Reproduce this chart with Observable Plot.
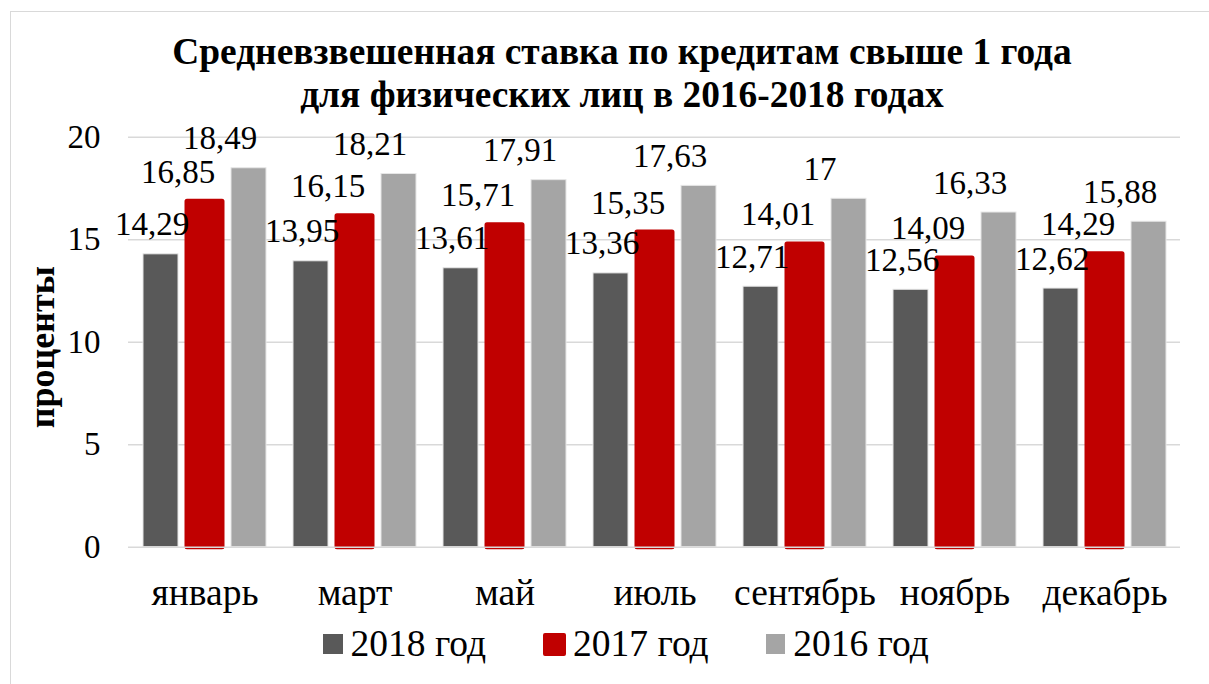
<!DOCTYPE html>
<html>
<head>
<meta charset="utf-8">
<script src="https://cdn.jsdelivr.net/npm/d3@7"></script>
<script src="https://cdn.jsdelivr.net/npm/@observablehq/plot@0.6"></script>
<style>
  html, body { margin: 0; padding: 0; background: #fff; overflow: hidden; }
  #wrap { position: relative; width: 1209px; height: 684px; font-family: "Liberation Serif", "Times New Roman", serif; }
  #wrap > .layer { position: absolute; left: 0; top: 0; }
  #frame { position: absolute; left: 10px; top: 11px; width: 1205px; height: 690px; border: 1.5px solid #d9d9d9; box-sizing: border-box; }
  #title { position: absolute; left: 35px; top: 30px; width: 1174px; text-align: center; font-weight: bold; font-size: 37.4px; line-height: 43.3px; color: #000; }
  #legend { position: absolute; left: 323px; top: 626px; display: flex; align-items: center; gap: 57px; font-size: 37.5px; line-height: 36px; color: #000; }
  #legend .item { display: flex; align-items: center; }
  #legend .sw { width: 19.5px; height: 19.5px; margin-right: 8px; box-sizing: border-box; }
</style>
</head>
<body>
<div id="wrap">
  <div id="frame"></div>
  <div id="title">Средневзвешенная ставка по кредитам свыше 1 года<br>для физических лиц в 2016-2018 годах</div>
  <div id="legend"></div>
</div>
<script>
// ---- data ----
const months = ["январь", "март", "май", "июль", "сентябрь", "ноябрь", "декабрь"];
const series = ["2018 год", "2017 год", "2016 год"];
const values2018 = [14.29, 13.95, 13.61, 13.36, 12.71, 12.56, 12.62];
const values2017 = [16.85, 16.15, 15.71, 15.35, 14.77, 14.09, 14.29]; // bar heights as drawn
const values2016 = [18.49, 18.21, 17.91, 17.63, 17, 16.33, 15.88];
const labels2017 = ["16,85", "16,15", "15,71", "15,35", "14,01", "14,09", "14,29"]; // label text as printed
const yTicks = [0, 5, 10, 15, 20];
const colors = ["#595959", "#c00000", "#a5a5a5"];

const fmt = v => String(v).replace(".", ",");
const seriesValues = [values2018, values2017, values2016];
const data = months.flatMap((m, i) => series.map((s, j) => ({
  month: m,
  series: s,
  value: seriesValues[j][i],
  label: j === 1 ? labels2017[i] : fmt(seriesValues[j][i])
})));

const W = 1209, H = 684;
const M = {top: 136.8, bottom: 137.3, left: 128, right: 29};
const font = "'Liberation Serif', 'Times New Roman', serif";
const baseStyle = {fontFamily: font, fontSize: "33px", color: "#000", background: "transparent", overflow: "visible"};

// ---- layer 1: grid + y axis ----
const backLayer = Plot.plot({
  width: W, height: H,
  marginTop: M.top, marginBottom: M.bottom, marginLeft: M.left, marginRight: M.right,
  style: baseStyle,
  y: {domain: [0, 20]},
  marks: [
    Plot.ruleY(yTicks.filter(d => d > 0), {stroke: "#d9d9d9", strokeWidth: 1.5}),
    Plot.axisY(yTicks, {tickSize: 0, tickPadding: 28, label: null, fontSize: 33}),
    Plot.text(["проценты"], {frameAnchor: "left", textAnchor: "middle", dx: -86, dy: 5, rotate: -90, fontWeight: "bold", fontSize: 36})
  ]
});

// ---- layer 2: bars, labels, month axis ----
const bySeries = s => data.filter(d => d.series === s);
const labelDx = [-9, -27, -29];
const barLayer = Plot.plot({
  width: W, height: H,
  marginTop: M.top, marginBottom: M.bottom, marginLeft: M.left, marginRight: M.right,
  style: baseStyle,
  fx: {domain: months, paddingInner: 0.18, paddingOuter: 0.09, label: null},
  x: {domain: series, paddingInner: 0.207, paddingOuter: 0, axis: null},
  y: {domain: [0, 20], axis: null},
  color: {domain: series, range: colors},
  marks: [
    Plot.axisFx({anchor: "bottom", tickSize: 0, tickPadding: 31, fontSize: 37.5, label: null}),
    Plot.barY(bySeries(series[0]), {fx: "month", x: "series", y: "value", fill: "series", stroke: "#e6e6e6", strokeWidth: 1}),
    Plot.barY(bySeries(series[1]), {fx: "month", x: "series", y: "value", fill: "series", stroke: colors[1], strokeWidth: 5, strokeLinejoin: "round"}),
    Plot.barY(bySeries(series[2]), {fx: "month", x: "series", y: "value", fill: "series", stroke: "#e6e6e6", strokeWidth: 1}),
    ...series.map((s, j) => Plot.text(bySeries(s), {fx: "month", x: "series", y: "value", text: "label", lineAnchor: "bottom", dy: -19, dx: labelDx[j], fill: "#000", fontSize: 33}))
  ]
});

// ---- layer 3: zero baseline on top ----
const baseLayer = Plot.plot({
  width: W, height: H,
  marginTop: M.top, marginBottom: M.bottom, marginLeft: M.left, marginRight: M.right,
  style: baseStyle,
  y: {domain: [0, 20], axis: null},
  marks: [Plot.ruleY([0], {stroke: "#d9d9d9", strokeWidth: 1.5})]
});

const wrap = document.getElementById("wrap");
for (const svg of [backLayer, barLayer, baseLayer]) {
  svg.classList.add("layer");
  wrap.appendChild(svg);
}

// ---- legend ----
const legend = document.getElementById("legend");
series.forEach((s, j) => {
  const item = document.createElement("div");
  item.className = "item";
  const sw = document.createElement("div");
  sw.className = "sw";
  sw.style.background = colors[j];
  if (j === 1) { sw.style.border = "2px solid " + colors[1]; sw.style.borderRadius = "2px"; sw.style.width = "23px"; sw.style.height = "23px"; sw.style.marginRight = "7px"; }
  const t = document.createElement("span");
  t.textContent = s;
  item.appendChild(sw);
  item.appendChild(t);
  legend.appendChild(item);
});
</script>
</body>
</html>
